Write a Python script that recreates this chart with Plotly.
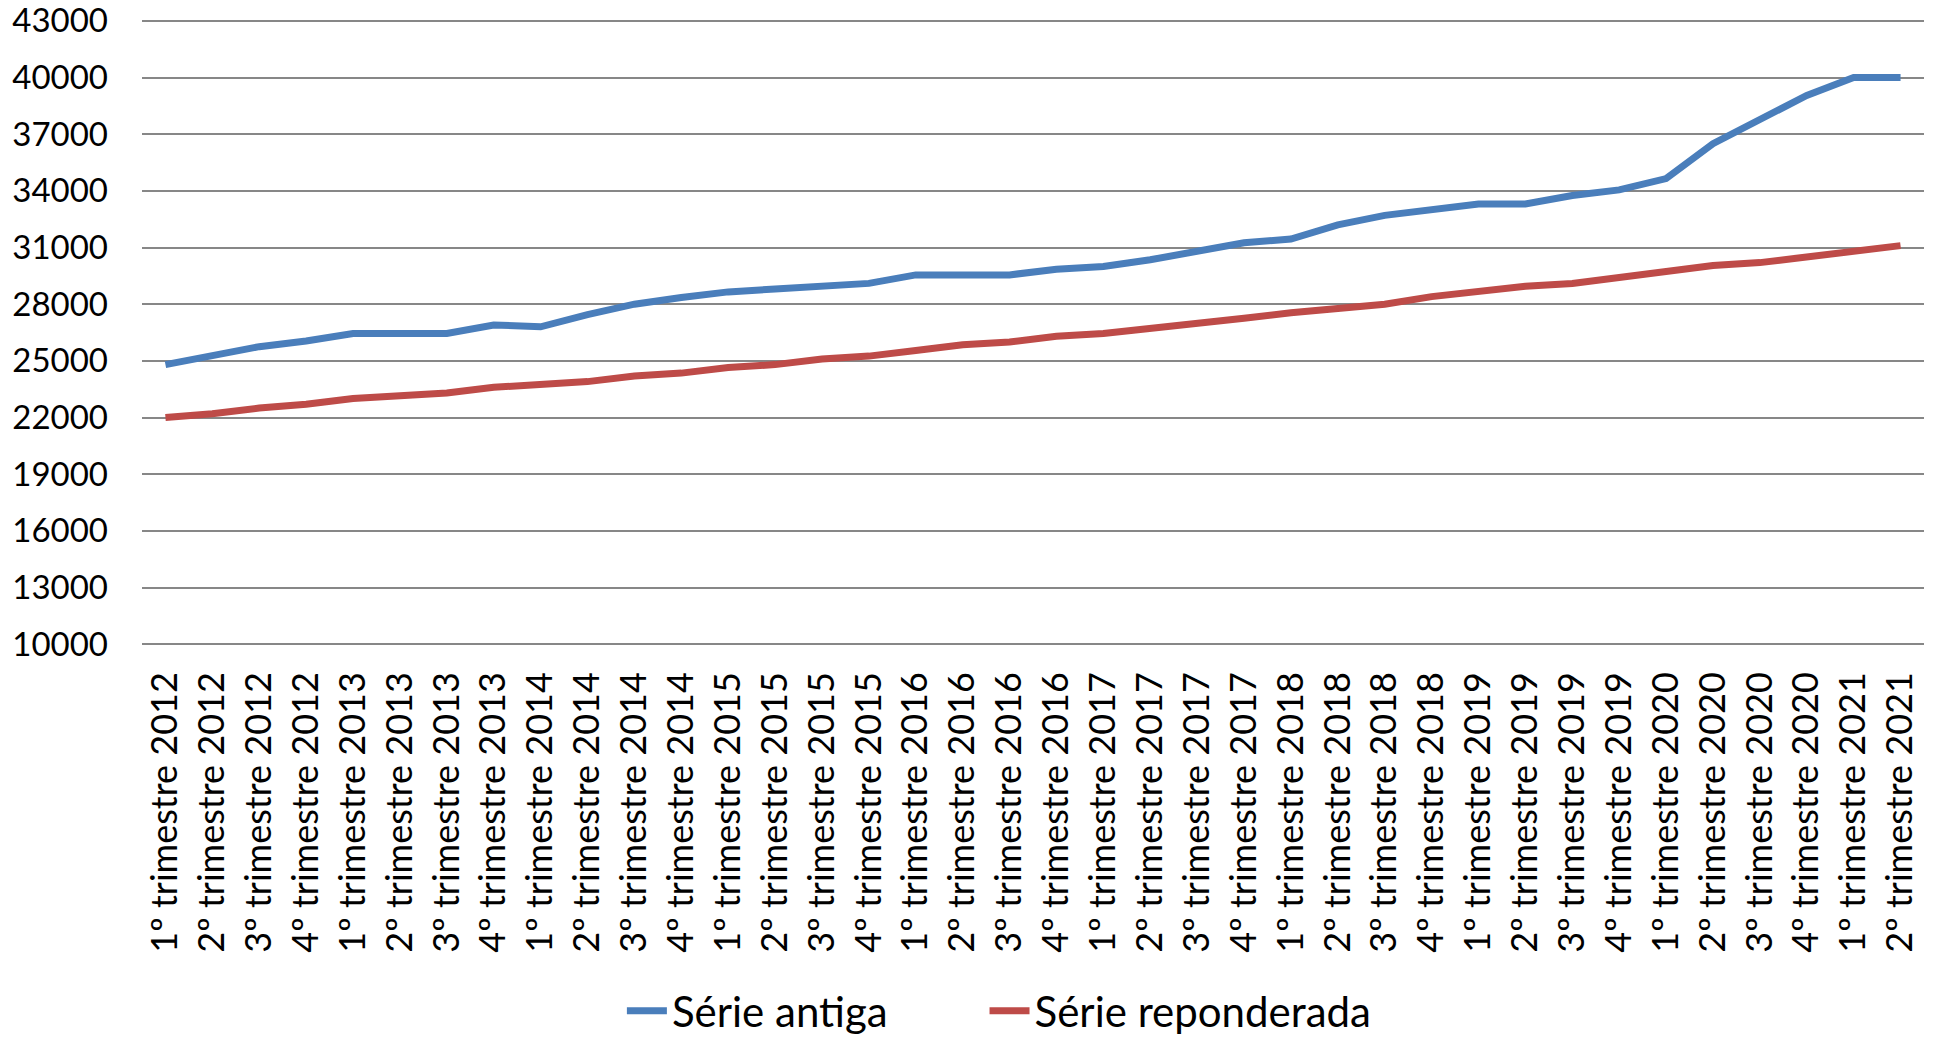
import plotly.graph_objects as go

categories = [f"{q}º trimestre {y}" for y in range(2012, 2022) for q in range(1, 5)][:38]

serie_antiga = [24800, 25250, 25750, 26050, 26450, 26450, 26450, 26900, 26800, 27450,
                28000, 28350, 28650, 28800, 28950, 29100, 29550, 29550, 29550, 29850,
                30000, 30350, 30800, 31250, 31450, 32200, 32700, 33000, 33300, 33300,
                33750, 34050, 34650, 36500, 37800, 39050, 40000, 40000]

serie_reponderada = [22000, 22200, 22500, 22700, 23000, 23150, 23300, 23600, 23750, 23900,
                     24200, 24350, 24650, 24800, 25100, 25250, 25550, 25850, 26000, 26300,
                     26450, 26700, 27000, 27250, 27550, 27800, 28000, 28400, 28650, 28950,
                     29100, 29400, 29750, 30050, 30200, 30500, 30800, 31100]

y_ticks = list(range(10000, 43001, 3000))

FONT = "Lato"

fig = go.Figure()
fig.add_trace(go.Scatter(x=categories, y=serie_antiga, mode="lines", name="Série antiga",
                         line=dict(color="#4A7EBB", width=7), legend="legend"))
fig.add_trace(go.Scatter(x=categories, y=serie_reponderada, mode="lines", name="Série reponderada",
                         line=dict(color="#BE4B48", width=7), legend="legend2"))

legend_common = dict(orientation="h", xanchor="left", yref="container", y=0.026,
                     yanchor="middle", font=dict(size=42, family=FONT), itemwidth=40,
                     bgcolor="rgba(0,0,0,0)")

fig.update_layout(
    width=1936, height=1038,
    margin=dict(l=142, r=12, t=18, b=391),
    paper_bgcolor="white", plot_bgcolor="white",
    font=dict(family=FONT, color="black"),
    showlegend=True,
    legend=dict(x=0.2693, **legend_common),
    legend2=dict(x=0.4728, **legend_common),
)
fig.update_xaxes(
    type="category", range=[-0.5, 37.5], tickangle=-90, tickfont=dict(size=36, family=FONT),
    showgrid=False, showline=False, automargin=False,
    ticks="", ticklabelstandoff=17,
)
fig.update_yaxes(
    range=[9850, 43150], tickvals=y_ticks, ticktext=[str(v) for v in y_ticks],
    tickfont=dict(size=33, family=FONT), ticklabeloverflow="allow", automargin=False,
    showgrid=True, gridcolor="#878787", gridwidth=2, zeroline=False,
    ticks="", ticklabelstandoff=33,
)

fig.write_html("out.html", config={"displayModeBar": False},
               post_script="document.body.style.margin='0';")
